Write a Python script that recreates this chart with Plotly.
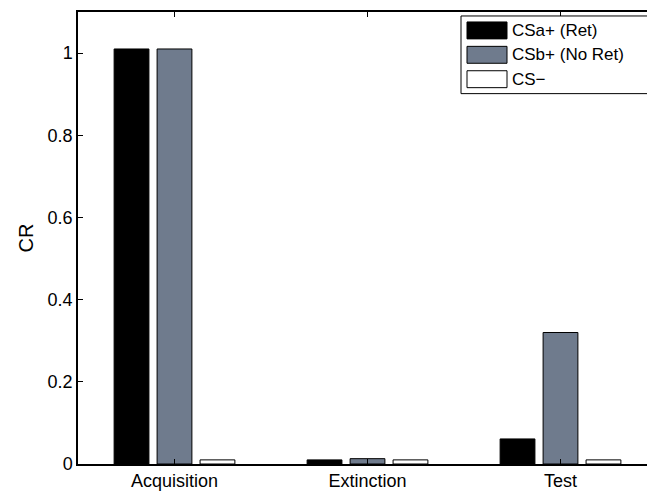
import plotly.graph_objects as go

categories = ["Acquisition", "Extinction", "Test"]
cat_pos = [1, 2, 3]
csa_ret = [1.01, 0.010, 0.061]
csb_noret = [1.01, 0.013, 0.32]
cs_minus = [0.010, 0.010, 0.010]
series_names = ["CSa+ (Ret)", "CSb+ (No Ret)", "CS\u2212"]
series_colors = ["#000000", "#6f7b8d", "#ffffff"]
y_ticks = [0, 0.2, 0.4, 0.6, 0.8, 1]
y_tick_text = ["0", "0.2", "0.4", "0.6", "0.8", "1"]

FONT = "Liberation Sans, Arial, Helvetica, sans-serif"

fig = go.Figure()
for name, vals, col in zip(series_names, [csa_ret, csb_noret, cs_minus], series_colors):
    fig.add_trace(go.Bar(
        x=cat_pos, y=vals, name=name, showlegend=False,
        marker=dict(color=col, line=dict(color="#000000", width=1)),
    ))

W, H = 647, 491
PL, PR, PT, PB = 78, 647, 12, 466  # plot area in window pixels
ml, mr, mt, mb = PL, W - PR, PT, H - PB

def px(x):
    return (x - PL) / (PR - PL)

def py(y):
    return (PB - y) / (PB - PT)

shapes = []
annotations = []
# legend box: white fill, border on left/top/bottom (right side runs off the picture)
LX0, LX1, LY0, LY1 = 461, 760, 16, 94
shapes.append(dict(type="rect", xref="paper", yref="paper",
                   x0=px(LX0), x1=px(LX1), y0=py(LY1), y1=py(LY0),
                   line=dict(width=0), fillcolor="white", layer="above"))
for (a, b, c, d) in [(LX0, LY0, LX1, LY0), (LX0, LY1, LX1, LY1), (LX0, LY0, LX0, LY1)]:
    shapes.append(dict(type="line", xref="paper", yref="paper",
                       x0=px(a), y0=py(b), x1=px(c), y1=py(d),
                       line=dict(color="black", width=1), layer="above"))
row_tops = [22, 46.5, 71]
for name, col, top in zip(series_names, series_colors, row_tops):
    shapes.append(dict(type="rect", xref="paper", yref="paper",
                       x0=px(467), x1=px(507), y0=py(top + 17), y1=py(top),
                       line=dict(color="black", width=1), fillcolor=col, layer="above"))
    annotations.append(dict(xref="paper", yref="paper", x=px(510), y=py(top + 8.5),
                            xanchor="left", yanchor="middle", showarrow=False,
                            text=name, font=dict(family=FONT, size=17, color="black")))

fig.update_layout(
    width=W, height=H,
    margin=dict(l=ml, r=mr, t=mt, b=mb, pad=0),
    paper_bgcolor="white", plot_bgcolor="white",
    barmode="group", bargap=0.332, bargroupgap=0.19,
    font=dict(family=FONT, size=17, color="black"),
    showlegend=False,
    shapes=shapes, annotations=annotations,
    xaxis=dict(
        range=[0.5, 0.5 + (PR - PL) / 193.0],
        tickvals=cat_pos, ticktext=categories,
        showline=True, linecolor="black", linewidth=1.5, mirror="allticks",
        ticks="inside", ticklen=5, tickcolor="black", tickwidth=1,
        showgrid=False, zeroline=False,
        tickfont=dict(size=18),
    ),
    yaxis=dict(
        range=[0, 1.1],
        tickvals=y_ticks, ticktext=y_tick_text,
        showline=True, linecolor="black", linewidth=1.5,
        ticks="inside", ticklen=5, tickcolor="black", tickwidth=1,
        showgrid=False, zeroline=False,
        tickfont=dict(size=18),
        title=dict(text="CR", font=dict(size=20), standoff=9),
    ),
)

fig.write_html(
    "out.html",
    config={"displayModeBar": False},
    post_script="document.documentElement.style.margin='0';"
                "document.body.style.margin='0';"
                "document.documentElement.style.overflow='hidden';"
                "document.body.style.overflow='hidden';",
)
